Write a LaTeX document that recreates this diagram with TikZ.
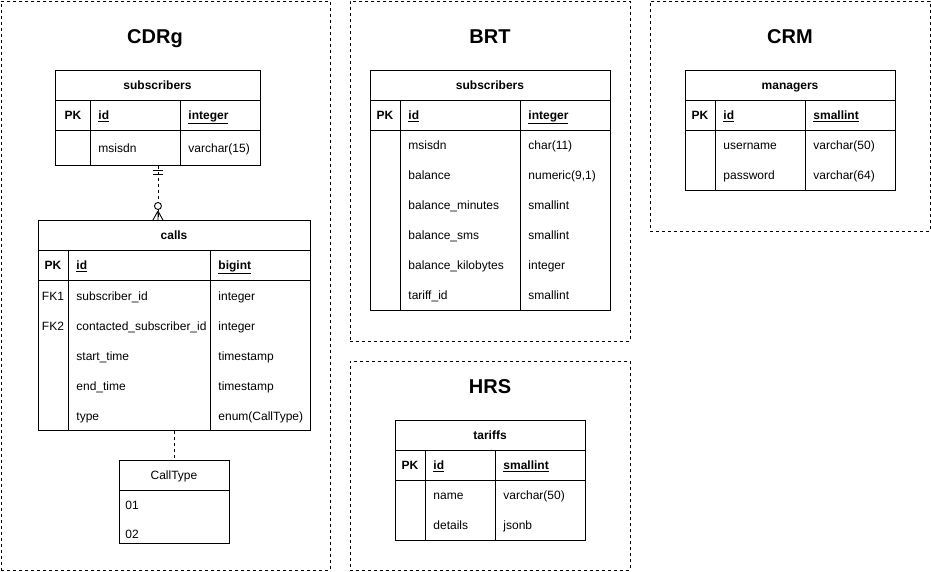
\documentclass[tikz,border=0pt]{standalone}
\usepackage{fontspec}
\setmainfont{Liberation Sans}
\begin{document}
\begin{tikzpicture}[x=1pt,y=-1pt,line width=0.9pt,
  container/.style={draw, dash pattern=on 3pt off 3pt, line width=0.8pt},
  title/.style={font=\fontsize{20}{24}\selectfont\bfseries, inner sep=0pt, text height=18.5pt, text depth=4pt},
  tbl/.style={draw, anchor=north west, inner sep=0pt, fill=white},
  tx/.style={inner sep=0pt, text height=11.7pt, text depth=2.5pt},
  hdr/.style={tx, font=\fontsize{12}{14}\selectfont\bfseries},
  cell/.style={tx, font=\fontsize{12}{14}\selectfont, anchor=west},
  ccell/.style={tx, font=\fontsize{12}{14}\selectfont},
  kcell/.style={tx, font=\fontsize{12}{14}\selectfont\bfseries, anchor=west},
  pkcell/.style={tx, font=\fontsize{12}{14}\selectfont\bfseries},
  conn/.style={draw, dash pattern=on 3pt off 3pt, line width=0.9pt}
]
\useasboundingbox (0,0) rectangle (931,571);

% containers
\node[container, anchor=north west, minimum width=329pt, minimum height=569pt, inner sep=0pt] (boxcdr) at (1,1) {};
\node[container, anchor=north west, minimum width=280pt, minimum height=340pt, inner sep=0pt] (boxbrt) at (350,1) {};
\node[container, anchor=north west, minimum width=280pt, minimum height=230pt, inner sep=0pt] (boxcrm) at (650,1) {};
\node[container, anchor=north west, minimum width=280pt, minimum height=209pt, inner sep=0pt] (boxhrs) at (350,361) {};

\node[title] (tcdr) at (155,36) {CDRg};
\node[title] (tbrt) at (490,36) {BRT};
\node[title] (tcrm) at (790,36) {CRM};
\node[title] (thrs) at (490,386) {HRS};

% ===== CDRg subscribers
\node[tbl, minimum width=205pt, minimum height=95pt] (csub) at (55,70) {};
\draw (55,100) -- (260,100) (55,130) -- (260,130) (90,100) -- (90,165) (180,100) -- (180,165);
\node[hdr] (csubh) at (157.5,85) {subscribers};
\node[pkcell] (csubpk) at (73,115) {PK};
\node[kcell] (csubid) at (98,115) {\underline{id}};
\node[kcell] (csubidt) at (188,115) {\underline{integer}};
\node[cell] (csubm) at (98,148) {msisdn};
\node[cell] (csubmt) at (188,148) {varchar(15)};

% ===== calls
\node[tbl, minimum width=272pt, minimum height=210pt] (calls) at (38,220) {};
\draw (38,250) -- (310,250) (38,280) -- (310,280) (68,250) -- (68,430) (210,250) -- (210,430);
\node[hdr] (callsh) at (174,235) {calls};
\node[pkcell] (callspk) at (53,265) {PK};
\node[kcell] (callsid) at (76,265) {\underline{id}};
\node[kcell] (callsidt) at (218,265) {\underline{bigint}};
\node[ccell] (callsfk1) at (53,296) {FK1};
\node[cell] (callsa) at (76,296) {subscriber\_id};
\node[cell] (callsat) at (218,296) {integer};
\node[ccell] (callsfk2) at (53,326) {FK2};
\node[cell] (callsb) at (76,326) {contacted\_subscriber\_id};
\node[cell] (callsbt) at (218,326) {integer};
\node[cell] (callsc) at (76,356) {start\_time};
\node[cell] (callsct) at (218,356) {timestamp};
\node[cell] (callsd) at (76,386) {end\_time};
\node[cell] (callsdt) at (218,386) {timestamp};
\node[cell] (callse) at (76,416) {type};
\node[cell] (callset) at (218,416) {enum(CallType)};

% ===== CallType
\node[tbl, minimum width=110pt, minimum height=83pt] (ctype) at (119,460) {};
\draw (119,490) -- (229,490);
\node[ccell] (ctypeh) at (174,475) {CallType};
\node[cell] (ctype1) at (125,505) {01};
\node[cell] (ctype2) at (125,534) {02};

% connectors
\coordinate (c1) at (csub.south);
\coordinate (c2) at (csub.south |- calls.north);
\draw[conn] (c1) -- (c2);
\draw ([shift={(-5,5)}]c1) -- ++(10,0);
\draw ([shift={(-5,9)}]c1) -- ++(10,0);
\draw[fill=white] ([shift={(0,-14)}]c2) circle (3.5pt);
\draw ([shift={(0,-9)}]c2) -- ([shift={(-5,0)}]c2)
      ([shift={(0,-9)}]c2) -- (c2)
      ([shift={(0,-9)}]c2) -- ([shift={(5,0)}]c2);
\draw[conn] (calls.south) -- (ctype.north);

% ===== BRT subscribers
\node[tbl, minimum width=240pt, minimum height=240pt] (bsub) at (370,70) {};
\draw (370,100) -- (610,100) (370,130) -- (610,130) (400,100) -- (400,310) (520,100) -- (520,310);
\node[hdr] (bsubh) at (490,85) {subscribers};
\node[pkcell] (bsubpk) at (385,115) {PK};
\node[kcell] (bsubid) at (408,115) {\underline{id}};
\node[kcell] (bsubidt) at (528,115) {\underline{integer}};
\node[cell] (bsuba) at (408,145) {msisdn};
\node[cell] (bsubat) at (528,145) {char(11)};
\node[cell] (bsubb) at (408,175) {balance};
\node[cell] (bsubbt) at (528,175) {numeric(9,1)};
\node[cell] (bsubc) at (408,205) {balance\_minutes};
\node[cell] (bsubct) at (528,205) {smallint};
\node[cell] (bsubd) at (408,235) {balance\_sms};
\node[cell] (bsubdt) at (528,235) {smallint};
\node[cell] (bsube) at (408,265) {balance\_kilobytes};
\node[cell] (bsubet) at (528,265) {integer};
\node[cell] (bsubf) at (408,295) {tariff\_id};
\node[cell] (bsubft) at (528,295) {smallint};

% ===== CRM managers
\node[tbl, minimum width=210pt, minimum height=120pt] (mgr) at (685,70) {};
\draw (685,100) -- (895,100) (685,130) -- (895,130) (715,100) -- (715,190) (805,100) -- (805,190);
\node[hdr] (mgrh) at (790,85) {managers};
\node[pkcell] (mgrpk) at (700,115) {PK};
\node[kcell] (mgrid) at (723,115) {\underline{id}};
\node[kcell] (mgridt) at (813,115) {\underline{smallint}};
\node[cell] (mgra) at (723,145) {username};
\node[cell] (mgrat) at (813,145) {varchar(50)};
\node[cell] (mgrb) at (723,175) {password};
\node[cell] (mgrbt) at (813,175) {varchar(64)};

% ===== HRS tariffs
\node[tbl, minimum width=190pt, minimum height=120pt] (tar) at (395,420) {};
\draw (395,450) -- (585,450) (395,480) -- (585,480) (425,450) -- (425,540) (495,450) -- (495,540);
\node[hdr] (tarh) at (490,435) {tariffs};
\node[pkcell] (tarpk) at (410,465) {PK};
\node[kcell] (tarid) at (433,465) {\underline{id}};
\node[kcell] (taridt) at (503,465) {\underline{smallint}};
\node[cell] (tara) at (433,495) {name};
\node[cell] (tarat) at (503,495) {varchar(50)};
\node[cell] (tarb) at (433,525) {details};
\node[cell] (tarbt) at (503,525) {jsonb};
\end{tikzpicture}
\end{document}
